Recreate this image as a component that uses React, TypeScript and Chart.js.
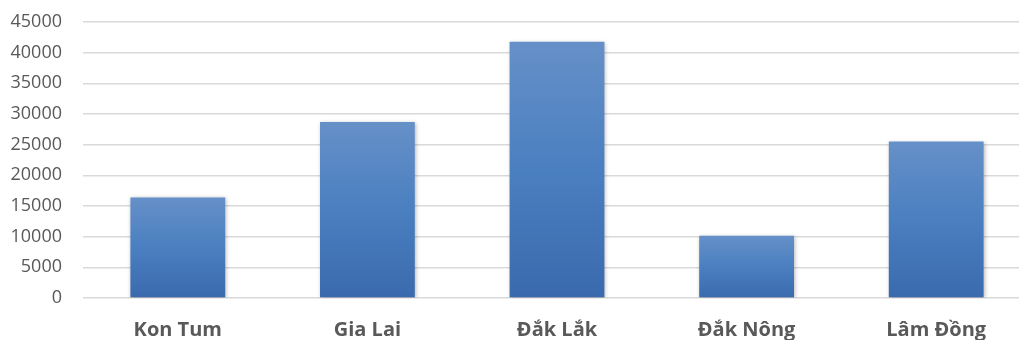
import React, { useEffect, useRef } from "react";
import { Chart, registerables } from "chart.js";

Chart.register(...registerables);

const categories = ["Kon Tum", "Gia Lai", "Đắk Lắk", "Đắk Nông", "Lâm Đồng"];
const values = [16400, 28700, 41800, 10150, 25500];
const yMin = 0;
const yMax = 45000;
const yStep = 5000;

const shadowPlugin = {
  id: "barShadow",
  beforeDatasetsDraw(chart: any) {
    const ctx = chart.ctx;
    ctx.save();
    ctx.shadowColor = "rgba(0,0,0,0.28)";
    ctx.shadowBlur = 4;
    ctx.shadowOffsetX = 1;
    ctx.shadowOffsetY = 1;
  },
  afterDatasetsDraw(chart: any) {
    chart.ctx.restore();
  },
};

export default function App() {
  const ref = useRef<HTMLCanvasElement | null>(null);

  useEffect(() => {
    if (!ref.current) return;
    const chart = new Chart(ref.current, {
      type: "bar",
      data: {
        labels: categories,
        datasets: [
          {
            data: values,
            backgroundColor: (c: any) => {
              const ch = c.chart;
              const area = ch.chartArea;
              if (!area || c.raw === undefined) return "#4a7ebf";
              const yScale = ch.scales.y;
              const top = yScale.getPixelForValue(c.raw);
              const bottom = yScale.getPixelForValue(0);
              const g = ch.ctx.createLinearGradient(0, top, 0, bottom);
              g.addColorStop(0, "#6690c8");
              g.addColorStop(0.5, "#4a7fc0");
              g.addColorStop(1, "#3a6aad");
              return g;
            },
            borderWidth: 0,
            barPercentage: 0.5,
            categoryPercentage: 1,
          },
        ],
      },
      options: {
        animation: false,
        responsive: false,
        maintainAspectRatio: false,
        layout: { padding: { top: 22, left: 0, right: 0, bottom: 0 } },
        plugins: {
          legend: { display: false },
          tooltip: { enabled: false },
        },
        scales: {
          x: {
            grid: { display: false, drawTicks: false },
            border: { display: false },
            ticks: {
              color: "#595959",
              font: { family: "'Open Sans'", size: 20, weight: "bold" },
              padding: 20,
              maxRotation: 0,
              autoSkip: false,
            },
            afterFit: (axis: any) => {
              axis.height = 42;
            },
          },
          y: {
            min: yMin,
            max: yMax,
            grid: {
              color: "#d9d9d9",
              lineWidth: 1.5,
              drawTicks: true,
              tickLength: 21,
              tickColor: "rgba(0,0,0,0)",
            },
            border: { display: false },
            ticks: {
              stepSize: yStep,
              color: "#595959",
              font: { family: "'Open Sans'", size: 18 },
              padding: 0,
              callback: (v: any) => String(v),
            },
            afterFit: (axis: any) => {
              axis.width = 83;
            },
          },
        },
      },
      plugins: [shadowPlugin],
    });
    return () => chart.destroy();
  }, []);

  return (
    <div
      style={{
        position: "fixed",
        left: 0,
        top: 0,
        width: 1019,
        height: 340,
        overflow: "hidden",
        background: "#fff",
      }}
    >
      <canvas ref={ref} width={1031} height={340} style={{ display: "block" }} />
    </div>
  );
}
